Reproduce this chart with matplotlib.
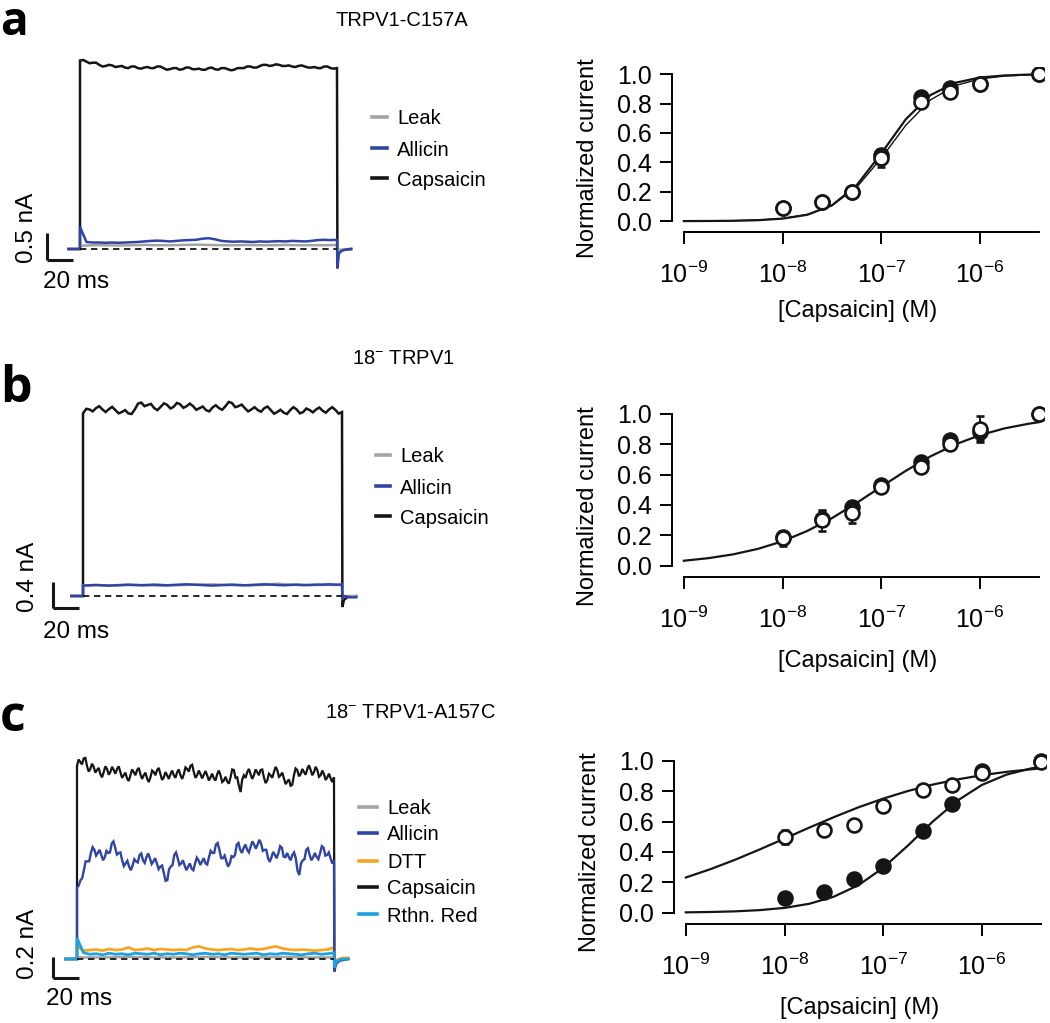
import numpy as np
import matplotlib
matplotlib.use("Agg")
from matplotlib import pyplot as plt
from matplotlib.lines import Line2D
from matplotlib.ticker import FixedLocator, NullLocator, FormatStrFormatter

plt.rcParams["font.family"] = ["Liberation Sans", "DejaVu Sans"]
plt.rcParams["mathtext.fontset"] = "custom"
plt.rcParams["mathtext.rm"] = "Liberation Sans"
plt.rcParams["mathtext.it"] = "Liberation Sans:italic"
plt.rcParams["mathtext.bf"] = "Liberation Sans:bold"

W, H = 1050, 1023

# ---------------- dose-response data ----------------
conc = [1e-8, 2.5e-8, 5e-8, 1e-7, 2.5e-7, 5e-7, 1e-6, 4e-6]

a_open = [0.09, 0.13, 0.20, 0.43, 0.807, 0.875, 0.93, 1.0]
a_open_err = [0.01, 0.02, 0.02, 0.06, 0.02, 0.02, 0.02, 0.0]
a_fill = [0.09, 0.13, 0.20, 0.45, 0.845, 0.905, 0.93, 1.0]
a_fill_err = [0.01, 0.01, 0.02, 0.04, 0.02, 0.01, 0.02, 0.0]

b_open = [0.18, 0.30, 0.35, 0.52, 0.65, 0.80, 0.90, 1.0]
b_open_err = [0.05, 0.07, 0.07, 0.02, 0.03, 0.03, 0.085, 0.0]
b_fill = [0.19, 0.31, 0.385, 0.53, 0.68, 0.825, 0.88, 1.0]
b_fill_err = [0.04, 0.05, 0.04, 0.02, 0.02, 0.02, 0.05, 0.0]

c_open = [0.50, 0.545, 0.58, 0.70, 0.81, 0.84, 0.917, 0.99]
c_open_err = [0.045, 0.02, 0.02, 0.02, 0.02, 0.02, 0.02, 0.01]
c_fill = [0.10, 0.135, 0.22, 0.31, 0.54, 0.716, 0.935, 1.0]
c_fill_err = [0.01, 0.01, 0.01, 0.01, 0.01, 0.01, 0.01, 0.0]

# fitted curves, read at quarter decades
curve_logx = [-9, -8.75, -8.5, -8.25, -8, -7.75, -7.5, -7.25, -7, -6.75,
              -6.5, -6.25, -6, -5.75, -5.5, -5.4]
a_curve1 = [0.0003, 0.0009, 0.0024, 0.0063, 0.017, 0.043, 0.107, 0.243, 0.46,
            0.694, 0.858, 0.941, 0.977, 0.991, 0.997, 0.998]
a_curve2 = [0.0005, 0.0012, 0.003, 0.0074, 0.018, 0.045, 0.106, 0.229, 0.428,
            0.653, 0.825, 0.922, 0.967, 0.987, 0.995, 0.996]
b_curve = [0.033, 0.050, 0.075, 0.111, 0.161, 0.229, 0.313, 0.413, 0.52,
           0.625, 0.72, 0.798, 0.859, 0.904, 0.935, 0.945]
c_curve_open = [0.232, 0.287, 0.349, 0.417, 0.488, 0.56, 0.629, 0.694, 0.751,
                0.801, 0.843, 0.877, 0.905, 0.927, 0.944, 0.95]
c_curve_fill = [0.0026, 0.005, 0.0093, 0.0174, 0.032, 0.059, 0.106, 0.182,
                0.296, 0.442, 0.599, 0.737, 0.841, 0.909, 0.95, 0.96]

# ---------------- current traces (nA) ----------------
step_ms = 200
pre_ms = -9
tail_t = [0.3, 1.5, 4, 7, 11]

a_cap = [3.49, 3.50, 3.47, 3.44, 3.45, 3.45, 3.41, 3.38, 3.39, 3.41, 3.40, 3.37,
         3.38, 3.39, 3.36, 3.35, 3.38, 3.38, 3.35, 3.34, 3.36, 3.37, 3.35, 3.35,
         3.38, 3.38, 3.35, 3.32, 3.33, 3.35, 3.35, 3.32, 3.33, 3.36, 3.36, 3.33,
         3.33, 3.34, 3.32, 3.32, 3.35, 3.36, 3.33, 3.32, 3.35, 3.35, 3.33, 3.31,
         3.32, 3.35, 3.35, 3.35, 3.38, 3.38, 3.36, 3.36, 3.39, 3.41, 3.41, 3.39,
         3.40, 3.42, 3.41, 3.39, 3.39, 3.40, 3.38, 3.37, 3.39, 3.40, 3.38, 3.36,
         3.36, 3.37, 3.35, 3.35, 3.38, 3.38, 3.35, 3.34, 3.35]
a_all = [0.41, 0.13, 0.12, 0.12, 0.115, 0.12, 0.115, 0.12, 0.125, 0.13, 0.14,
         0.15, 0.155, 0.15, 0.14, 0.15, 0.16, 0.165, 0.17, 0.19, 0.20, 0.18, 0.15,
         0.14, 0.135, 0.14, 0.135, 0.13, 0.14, 0.135, 0.14, 0.145, 0.14, 0.15,
         0.145, 0.14, 0.15, 0.165, 0.17, 0.165, 0.17]
a_leak = [0.06, 0.07, 0.07, 0.065, 0.07, 0.075, 0.07, 0.07, 0.075, 0.08, 0.075,
          0.07, 0.07, 0.075, 0.07, 0.07, 0.075, 0.07, 0.07, 0.07, 0.075]
a_cap_tail = [-0.14, -0.06, -0.02, -0.01, 0.0]
a_all_tail = [-0.36, -0.08, -0.03, -0.01, 0.0]
a_leak_tail = [-0.05, -0.02, -0.01, 0.0, 0.0]

b_cap = [2.81, 2.88, 2.87, 2.84, 2.89, 2.92, 2.87, 2.83, 2.875, 2.91, 2.86, 2.81,
         2.83, 2.86, 2.81, 2.80, 2.87, 2.96, 2.975, 2.92, 2.94, 2.955, 2.89, 2.86,
         2.91, 2.965, 2.94, 2.885, 2.91, 2.97, 2.95, 2.895, 2.92, 2.96, 2.92, 2.865,
         2.89, 2.915, 2.86, 2.84, 2.90, 2.935, 2.89, 2.865, 2.92, 2.985, 2.97, 2.905,
         2.92, 2.945, 2.89, 2.84, 2.87, 2.905, 2.86, 2.835, 2.89, 2.915, 2.86, 2.805,
         2.83, 2.865, 2.82, 2.80, 2.86, 2.905, 2.87, 2.81, 2.83, 2.885, 2.86, 2.825,
         2.87, 2.90, 2.85, 2.82, 2.87, 2.905, 2.86, 2.805, 2.83]
b_all = [0.16, 0.165, 0.17, 0.165, 0.16, 0.165, 0.17, 0.175, 0.17, 0.165, 0.17,
         0.175, 0.17, 0.165, 0.17, 0.175, 0.18, 0.175, 0.17, 0.165, 0.16, 0.165,
         0.17, 0.175, 0.17, 0.165, 0.17, 0.175, 0.18, 0.175, 0.17, 0.165, 0.17,
         0.175, 0.17, 0.17, 0.175, 0.175, 0.18, 0.175, 0.175]
b_leak = [0.16, 0.165, 0.16, 0.165, 0.17, 0.165, 0.16, 0.165, 0.17, 0.175, 0.18,
          0.17, 0.165, 0.165, 0.17, 0.19, 0.175, 0.165, 0.17, 0.17, 0.17]
b_cap_tail = [-0.17, -0.06, -0.02, -0.01, 0.0]
b_all_tail = [-0.05, 0.0, -0.01, -0.02, -0.02]
b_leak_tail = [-0.03, -0.01, 0.0, 0.0, 0.0]

c_cap = [1.84, 1.90, 1.876, 1.853, 1.91, 1.915, 1.84, 1.785, 1.81, 1.86, 1.83, 1.775,
         1.80, 1.82, 1.76, 1.73, 1.78, 1.835, 1.81, 1.755, 1.78, 1.83, 1.80, 1.765,
         1.81, 1.835, 1.78, 1.725, 1.75, 1.775, 1.72, 1.695, 1.75, 1.805, 1.78, 1.75,
         1.80, 1.82, 1.76, 1.715, 1.75, 1.775, 1.72, 1.685, 1.73, 1.795, 1.78, 1.75,
         1.80, 1.82, 1.76, 1.705, 1.73, 1.78, 1.75, 1.715, 1.76, 1.795, 1.75, 1.725,
         1.78, 1.805, 1.75, 1.715, 1.76, 1.825, 1.81, 1.785, 1.84, 1.85, 1.78, 1.725,
         1.75, 1.795, 1.76, 1.72, 1.755, 1.79,
         1.75, 1.70, 1.73, 1.765, 1.72, 1.70, 1.76, 1.795, 1.75, 1.685, 1.70, 1.735,
         1.69, 1.67, 1.73, 1.805, 1.80, 1.725, 1.73, 1.65, 1.59, 1.71, 1.75, 1.725,
         1.78, 1.81, 1.76, 1.715, 1.75, 1.805, 1.78, 1.75, 1.80, 1.805, 1.73, 1.675,
         1.70, 1.765, 1.75, 1.725, 1.78, 1.83, 1.80, 1.735, 1.75, 1.775, 1.72, 1.665,
         1.69, 1.71, 1.65, 1.66, 1.75, 1.815, 1.80, 1.74, 1.76, 1.81, 1.78, 1.755,
         1.81, 1.845, 1.80, 1.75, 1.78, 1.83, 1.80, 1.735, 1.75, 1.795, 1.76, 1.705,
         1.73, 1.765, 1.72, 1.685, 1.73]
c_all = [0.68, 0.70, 0.75, 0.77, 0.85, 0.93, 0.93, 0.93, 1.01, 1.065, 1.04, 0.985,
         1.01, 1.04, 0.99, 0.94, 0.97, 1.03, 1.01, 1.015, 1.10, 1.12, 1.06, 0.995,
         1.01, 1.015, 0.94, 0.885, 0.91, 0.935, 0.88, 0.845, 0.89, 0.95, 0.93, 0.92,
         0.99, 1.005, 0.94, 0.915, 0.97, 1.005, 0.96, 0.905, 0.93, 0.96, 0.91, 0.855,
         0.88, 0.89, 0.82, 0.745, 0.75, 0.855, 0.88, 0.895, 0.99, 1.015, 0.96, 0.895,
         0.91, 0.94, 0.89, 0.845, 0.88, 0.91, 0.86, 0.845, 0.91, 0.965, 0.94, 0.895,
         0.93, 0.96, 0.91, 0.90, 0.97, 1.03, 1.01, 1.01, 1.09, 1.105, 1.04, 0.96,
         0.96, 0.985, 0.93, 0.88, 0.91, 0.98, 0.97, 0.99, 1.09, 1.105, 1.04, 1.01,
         1.06, 1.09, 1.04, 1.015, 1.07, 1.12, 1.09, 1.05, 1.09, 1.135, 1.10, 1.03,
         1.04, 1.04, 0.96, 0.925, 0.97, 1.02, 0.99, 0.96, 1.01, 1.075, 1.06, 0.975,
         0.97, 1.01, 0.97, 0.94, 0.99, 1.015, 0.96, 0.84, 0.80, 0.91, 0.94, 0.95,
         1.04, 1.055, 0.99, 0.94, 0.97, 1.01, 0.97, 0.95, 1.01, 1.075, 1.06, 0.985,
         0.99, 1.015, 0.96, 0.91, 0.94]
c_dtt = [0.12, 0.08, 0.085, 0.09, 0.08, 0.095, 0.085, 0.09, 0.11, 0.085, 0.09,
         0.10, 0.085, 0.095, 0.09, 0.085, 0.09, 0.085, 0.11, 0.12, 0.10, 0.09,
         0.085, 0.09, 0.095, 0.085, 0.09, 0.10, 0.09, 0.095, 0.11, 0.12, 0.10,
         0.09, 0.085, 0.09, 0.085, 0.08, 0.085, 0.09, 0.11]
c_rr = [0.20, 0.06, 0.045, 0.05, 0.04, 0.055, 0.045, 0.05, 0.04, 0.055, 0.05,
        0.045, 0.055, 0.04, 0.05, 0.045, 0.055, 0.05, 0.04, 0.05, 0.055, 0.045,
        0.05, 0.04, 0.055, 0.05, 0.045, 0.05, 0.055, 0.04, 0.05, 0.045, 0.055,
        0.05, 0.045, 0.04, 0.05, 0.055, 0.045, 0.05, 0.06]
c_leak = [0.015, 0.015, 0.02, 0.015, 0.015, 0.02, 0.015, 0.015, 0.02, 0.015, 0.015]
c_cap_tail = [-0.10, -0.04, -0.01, 0.0, 0.0]
c_all_tail = [-0.12, -0.05, -0.02, -0.01, 0.0]
c_dtt_tail = [-0.06, -0.02, 0.0, 0.01, 0.01]
c_rr_tail = [-0.08, -0.03, -0.01, 0.0, 0.0]
c_leak_tail = [-0.03, -0.01, 0.0, 0.0, 0.0]

GRAY, BLUE, ORANGE, CYAN, BLACK = "#a4a4a4", "#2f44a3", "#f6a623", "#1ba2e0", "#151515"


def fx(x):
    return x / W


def fy(y):
    return 1 - y / H


fig = plt.figure(figsize=(W / 100, H / 100), dpi=100)


def trace_axes(box, t0_px, ms_px, base_px, na_px):
    x0, y0, x1, y1 = box
    ax = fig.add_axes([fx(x0), fy(y1), (x1 - x0) / W, (y1 - y0) / H])
    ax.set_xlim((x0 - t0_px) / ms_px, (x1 - t0_px) / ms_px)
    ax.set_ylim((base_px - y1) / na_px, (base_px - y0) / na_px)
    ax.axis("off")
    return ax


def draw_trace(ax, vals, tail, color, lw=1.8):
    t = np.concatenate([[pre_ms, 0.0], np.linspace(0, step_ms, len(vals)),
                        step_ms + np.array(tail_t)])
    y = np.concatenate([[0, 0], vals, tail])
    ax.plot(t, y, color=color, lw=lw, solid_joinstyle="miter")


def scale_bar(ax, corner_t, corner_y, amp, label, lab_xy, ms_xy):
    ax.plot([corner_t, corner_t], [corner_y, corner_y + amp], color=BLACK, lw=2.2,
            solid_capstyle="butt")
    ax.plot([corner_t, corner_t + 20], [corner_y, corner_y], color=BLACK, lw=2.2,
            solid_capstyle="butt")
    ax.plot([0, step_ms], [0, 0], color=BLACK, lw=1.3, ls=(0, (3.5, 2.6)), zorder=5)
    fig.text(fx(lab_xy[0]), fy(lab_xy[1]), label, rotation=90, ha="center",
             va="center", fontsize=17.5)
    fig.text(fx(ms_xy[0]), fy(ms_xy[1]), "20 ms", ha="center", va="center",
             fontsize=17.5)


def legend(entries, x0, x1, xt, rows):
    for (lab, col), y in zip(entries, rows):
        fig.add_artist(Line2D([fx(x0), fx(x1)], [fy(y), fy(y)],
                              transform=fig.transFigure, color=col, lw=2.6))
        fig.text(fx(xt), fy(y), lab, ha="left", va="center_baseline", fontsize=14.5)


def dose_axes(left_px, bottom_px, unit_px):
    ylo, yhi = -0.074, 1.05
    lxlo, lxhi = -9.12, -5.35
    dec_px = 98.7
    h = (yhi - ylo) * unit_px
    w = (lxhi - lxlo) * dec_px
    ax = fig.add_axes([fx(left_px), fy(bottom_px), w / W, h / H])
    ax.set_xscale("log")
    ax.set_xlim(10 ** lxlo, 10 ** lxhi)
    ax.set_ylim(ylo, yhi)
    for s in ("top", "right"):
        ax.spines[s].set_visible(False)
    ax.spines["left"].set_bounds(0, 1)
    ax.spines["bottom"].set_bounds(1e-9, 4e-6)
    for s in ("left", "bottom"):
        ax.spines[s].set_linewidth(1.4)
    ax.xaxis.set_major_locator(FixedLocator([1e-9, 1e-8, 1e-7, 1e-6]))
    ax.xaxis.set_minor_locator(NullLocator())
    ax.set_yticks([0, 0.2, 0.4, 0.6, 0.8, 1.0])
    ax.yaxis.set_major_formatter(FormatStrFormatter("%.1f"))
    ax.tick_params(axis="both", length=8.5, width=1.4, labelsize=18, direction="out")
    ax.tick_params(axis="x", pad=13)
    ax.tick_params(axis="y", pad=6)
    ax.patch.set_visible(False)
    return ax


def plot_points(ax, vals, err, filled):
    ax.errorbar(conc, vals, yerr=err, fmt="o", ms=10, mew=1.9,
                mfc=BLACK if filled else "white", mec=BLACK, ecolor=BLACK,
                elinewidth=1.4, capsize=3, capthick=1.4, zorder=4 if filled else 5)


# ---------------- row a ----------------
fig.text(fx(0), fy(35), "a", fontsize=33, fontweight="bold", family="Open Sans",
         ha="left", va="baseline")
fig.text(fx(402), fy(21), "TRPV1-C157A", ha="center", va="center", fontsize=14.5)

ta = trace_axes((20, 40, 370, 310), 80, 1.285, 249, 54)
draw_trace(ta, a_cap, a_cap_tail, BLACK)
draw_trace(ta, a_leak, a_leak_tail, GRAY)
draw_trace(ta, a_all, a_all_tail, BLUE)
scale_bar(ta, (47 - 80) / 1.285, (249 - 260) / 54, 0.5, "0.5 nA", (27, 228), (76, 282))
legend([("Leak", GRAY), ("Allicin", BLUE), ("Capsaicin", BLACK)],
       372, 387, 397, [117, 148, 178])

da = dose_axes(672, 232, 147)
da.plot(10 ** np.array(curve_logx), a_curve2, color=BLACK, lw=1.0)
da.plot(10 ** np.array(curve_logx), a_curve1, color=BLACK, lw=1.6)
plot_points(da, a_fill, a_fill_err, True)
plot_points(da, a_open, a_open_err, False)
fig.text(fx(588), fy(158), "Normalized current", rotation=90, ha="center",
         va="center", fontsize=17)
fig.text(fx(858), fy(311), "[Capsaicin] (M)", ha="center", va="center", fontsize=17)

# ---------------- row b ----------------
fig.text(fx(0), fy(402), "b", fontsize=36, fontweight="bold", family="Open Sans",
         ha="left", va="baseline")
fig.text(fx(403), fy(359), r"18$^{-}$ TRPV1", ha="center", va="center", fontsize=14.5)

tb = trace_axes((20, 380, 370, 650), 83, 1.295, 596, 65)
draw_trace(tb, b_cap, b_cap_tail, BLACK)
draw_trace(tb, b_leak, b_leak_tail, GRAY)
draw_trace(tb, b_all, b_all_tail, BLUE)
scale_bar(tb, (53 - 83) / 1.295, (596 - 608) / 65, 0.4, "0.4 nA", (28, 577), (76, 632))
legend([("Leak", GRAY), ("Allicin", BLUE), ("Capsaicin", BLACK)],
       376, 390, 400, [455, 486, 516])

db = dose_axes(672, 577, 152)
db.plot(10 ** np.array(curve_logx), b_curve, color=BLACK, lw=1.6)
plot_points(db, b_fill, b_fill_err, True)
plot_points(db, b_open, b_open_err, False)
fig.text(fx(588), fy(506), "Normalized current", rotation=90, ha="center",
         va="center", fontsize=17)
fig.text(fx(858), fy(661), "[Capsaicin] (M)", ha="center", va="center", fontsize=17)

# ---------------- row c ----------------
fig.text(fx(0), fy(731), "c", fontsize=36, fontweight="bold", family="Open Sans",
         ha="left", va="baseline")
fig.text(fx(410), fy(712), r"18$^{-}$ TRPV1-A157C", ha="center", va="center",
         fontsize=14.5)

tc = trace_axes((20, 740, 370, 1010), 77, 1.285, 959, 105)
draw_trace(tc, c_cap, c_cap_tail, BLACK, lw=1.6)
draw_trace(tc, c_leak, c_leak_tail, GRAY)
draw_trace(tc, c_dtt, c_dtt_tail, ORANGE, lw=2.0)
draw_trace(tc, c_all, c_all_tail, BLUE, lw=1.7)
draw_trace(tc, c_rr, c_rr_tail, CYAN, lw=2.0)
scale_bar(tc, (53 - 77) / 1.285, (959 - 978) / 105, 0.2, "0.2 nA", (28, 944), (79, 999))
legend([("Leak", GRAY), ("Allicin", BLUE), ("DTT", ORANGE), ("Capsaicin", BLACK),
        ("Rthn. Red", CYAN)], 359, 377, 387, [807, 833, 861, 887, 914])

dc = dose_axes(674, 924, 152)
dc.plot(10 ** np.array(curve_logx), c_curve_open, color=BLACK, lw=1.6)
dc.plot(10 ** np.array(curve_logx), c_curve_fill, color=BLACK, lw=1.6)
plot_points(dc, c_fill, c_fill_err, True)
plot_points(dc, c_open, c_open_err, False)
fig.text(fx(590), fy(852), "Normalized current", rotation=90, ha="center",
         va="center", fontsize=17)
fig.text(fx(860), fy(1008), "[Capsaicin] (M)", ha="center", va="center", fontsize=17)

fig.savefig("out.png", dpi=100)
